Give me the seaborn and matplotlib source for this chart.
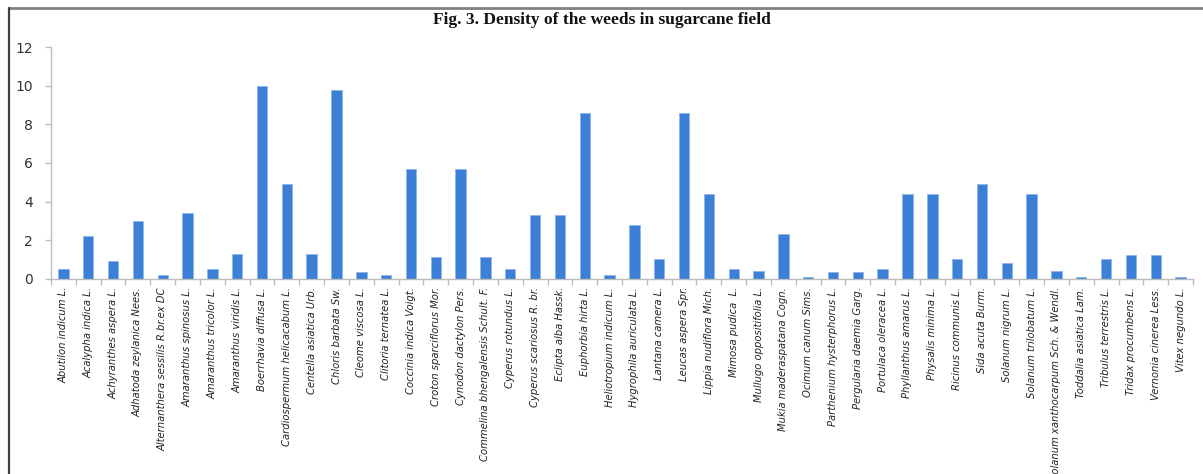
import matplotlib
matplotlib.use("Agg")
import matplotlib.pyplot as plt
from matplotlib.lines import Line2D
from matplotlib.ticker import FixedLocator, NullFormatter
import seaborn as sns
import pandas as pd

species = [
    "Abutilon indicum L.", "Acalypha indica L.", "Achyranthes aspera L.",
    "Adhatoda zeylanica Nees.", "Alternanthera sessilis R.br.ex DC",
    "Amaranthus spinosus L.", "Amaranthus tricolor L.", "Amaranthus viridis L.",
    "Boerrhavia diffusa L.", "Cardiospermum helicacabum L.", "Centella asiatica Urb.",
    "Chloris barbata Sw.", "Cleome viscosa L.", "Clitoria ternatea L.",
    "Coccinia indica Voigt.", "Croton sparciflorus Mor.", "Cynodon dactylon Pers.",
    "Commelina bhengalensis Schult. F.", "Cyperus rotundus L.", "Cyperus scariosus R. br.",
    "Eclipta alba Hassk.", "Euphorbia hirta L.", "Heliotropium indicum L.",
    "Hygrophila auriculata L.", "Lantana camera L.", "Leucas aspera Spr.",
    "Lippia nudiflora Mich.", "Mimosa pudica  L.", "Mullugo oppositifolia L.",
    "Mukia maderaspatana Cogn.", "Ocimum canum Sims.", "Parthenium hysterphorus L.",
    "Pergularia daemia Garg.", "Portulaca oleracea L.", "Phyllanthus amarus L.",
    "Physalis minima L.", "Ricinus communis L.", "Sida acuta Burm.",
    "Solanum nigrum L.", "Solanum trilobatum L.", "Solanum xanthocarpum Sch. & Wendl.",
    "Toddalia asiatica Lam.", "Tribulus terrestris L.", "Tridax procumbens L.",
    "Vernonia cinerea Less.", "Vitex negundo L.",
]

density = [
    0.5, 2.2, 0.93, 3.0, 0.21,
    3.4, 0.5, 1.3, 10.0, 4.9,
    1.3, 9.8, 0.33, 0.21, 5.7,
    1.1, 5.7, 1.1, 0.5, 3.3,
    3.3, 8.6, 0.21, 2.8, 1.0,
    8.6, 4.37, 0.5, 0.4, 2.3,
    0.1, 0.33, 0.36, 0.5, 4.37,
    4.37, 1.0, 4.9, 0.8, 4.37,
    0.4, 0.1, 1.0, 1.24, 1.24,
    0.1,
]

y_ticks = [0, 2, 4, 6, 8, 10, 12]

df = pd.DataFrame({"species": species, "density": density})

sns.set_theme(style="white")
plt.rcParams["font.family"] = ["DejaVu Sans"]

fig = plt.figure(figsize=(12.03, 4.74), dpi=100)
ax = fig.add_axes([51 / 1203, 1 - 278.7 / 474, (1193 - 51) / 1203, (278.7 - 47.3) / 474])

sns.barplot(data=df, x="species", y="density", color="#3B80D6", width=0.42,
            edgecolor="#8DB6EA", linewidth=0.6, ax=ax, saturation=1)

ax.set_xlim(-0.5, len(species) - 0.5)
ax.set_ylim(0, 12)
ax.set_yticks(y_ticks)
ax.set_xlabel("")
ax.set_ylabel("")

for s in ("top", "right"):
    ax.spines[s].set_visible(False)
for s in ("left", "bottom"):
    ax.spines[s].set_color("#BDBDBD")
    ax.spines[s].set_linewidth(1.0)

ax.tick_params(axis="y", which="major", direction="out", length=4, width=1,
               color="#BDBDBD", labelsize=10, labelcolor="#333333", pad=9, left=True)

# category separators as short downward ticks on the x axis
ax.xaxis.set_minor_locator(FixedLocator([i + 0.5 for i in range(-1, len(species))]))
ax.xaxis.set_minor_formatter(NullFormatter())
ax.tick_params(axis="x", which="minor", direction="out", length=4, width=1,
               color="#BDBDBD", bottom=True)
ax.tick_params(axis="x", which="major", length=0, pad=6)
ax.set_xticks(range(len(species)))
ax.set_xticklabels(species, rotation=90, ha="center", va="top",
                   fontsize=8, fontstyle="italic", fontstretch="condensed",
                   color="#222222", fontfamily="DejaVu Sans")

fig.text(0.5, 1 - 20 / 474, "Fig. 3. Density of the weeds in sugarcane field",
         ha="center", va="center", fontsize=12.5, fontweight="bold",
         fontfamily=["Liberation Serif", "DejaVu Serif"], color="#111111")

# page frame lines (top and left edge)
fig.add_artist(Line2D([9 / 1203, 1.0], [1 - 8 / 474, 1 - 8 / 474],
                      transform=fig.transFigure, color="#808080", linewidth=2))
fig.add_artist(Line2D([9 / 1203, 9 / 1203], [0.0, 1 - 8 / 474],
                      transform=fig.transFigure, color="#404040", linewidth=1.6))

fig.savefig("out.png", dpi=100, facecolor="white")
